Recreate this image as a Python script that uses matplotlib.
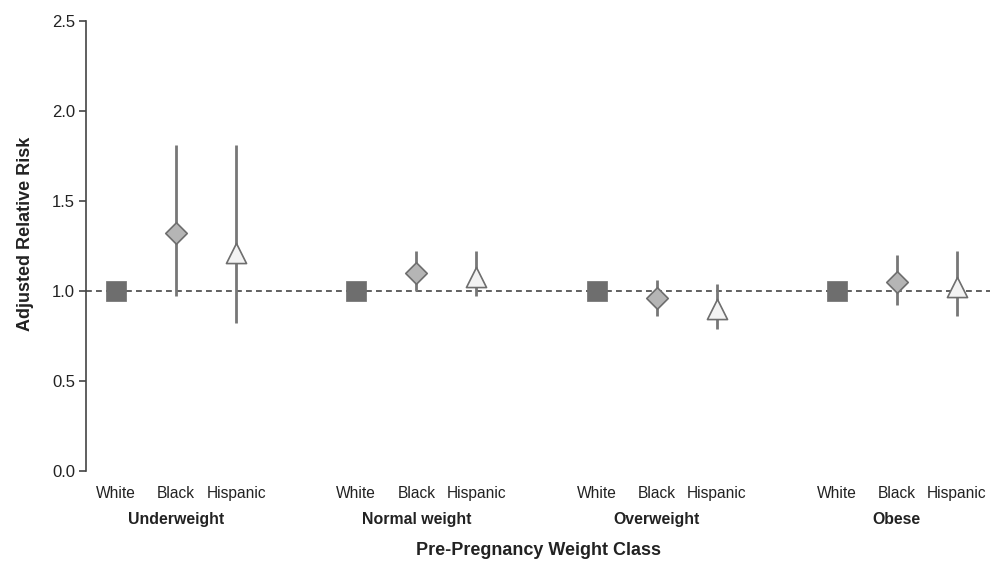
import matplotlib
matplotlib.use("Agg")
import matplotlib.pyplot as plt
from matplotlib.transforms import blended_transform_factory

plt.rcParams['font.family'] = ['Liberation Sans', 'DejaVu Sans']

groups = ["Underweight", "Normal weight", "Overweight", "Obese"]
races = ["White", "Black", "Hispanic"]
# adjusted relative risk, lower CI, upper CI per group (White is reference)
rr_black = [1.32, 1.10, 0.96, 1.05]
lo_black = [0.97, 1.00, 0.86, 0.92]
hi_black = [1.81, 1.22, 1.06, 1.20]
rr_hisp = [1.21, 1.08, 0.90, 1.02]
lo_hisp = [0.82, 0.97, 0.79, 0.86]
hi_hisp = [1.81, 1.22, 1.04, 1.22]
rr_white = [1.0, 1.0, 1.0, 1.0]
yticks = [0.0, 0.5, 1.0, 1.5, 2.0, 2.5]

fig = plt.figure(figsize=(9.99, 5.62), dpi=100)
ax = fig.add_axes([86/999, (562-471)/562, (990-86)/999, 450/562])

line_col = "#777777"
xw = [g*4 + 0 for g in range(4)]
xb = [g*4 + 1 for g in range(4)]
xh = [g*4 + 2 for g in range(4)]

ax.axhline(1.0, color="#444444", lw=1.2, ls=(0, (3.5, 2.5)), zorder=1)

for i in range(4):
    ax.plot([xb[i], xb[i]], [lo_black[i], hi_black[i]], color=line_col, lw=2, zorder=2, solid_capstyle='butt')
    ax.plot([xh[i], xh[i]], [lo_hisp[i], hi_hisp[i]], color=line_col, lw=2, zorder=2, solid_capstyle='butt')

ax.scatter(xw, rr_white, marker='s', s=190, color="#6e6e6e", edgecolor="#6e6e6e", lw=0.5, zorder=3)
ax.scatter(xb, rr_black, marker='D', s=120, color="#b5b5b5", edgecolor="#6e6e6e", lw=1.2, zorder=3)
ax.scatter(xh, rr_hisp, marker='^', s=210, color="#f3f3f3", edgecolor="#6e6e6e", lw=1.2, zorder=3)

ax.set_xlim(-0.5, 14.55)
ax.set_ylim(0, 2.5)
ax.set_yticks(yticks)
ax.set_yticklabels([f"{v:.1f}" for v in yticks], fontsize=12, color="#222222")
xt = sorted(xw + xb + xh)
ax.set_xticks(xt)
ax.set_xticklabels(races * 4, fontsize=11.2, color="#222222")
ax.tick_params(axis='x', length=0, pad=10.5)
ax.tick_params(axis='y', length=5, width=1.2, color="#444444", direction='out', pad=3)

for s in ["top", "right", "bottom"]:
    ax.spines[s].set_visible(False)
ax.spines["left"].set_color("#444444")
ax.spines["left"].set_linewidth(1.2)

trans = blended_transform_factory(ax.transData, ax.transAxes)
for i, g in enumerate(groups):
    ax.text(xb[i], -0.108, g, transform=trans, ha='center', va='center',
            fontsize=11.4, fontweight='bold', color="#222222")

ax.set_xlabel("Pre-Pregnancy Weight Class", fontsize=13, fontweight='bold', color="#222222")
ax.xaxis.set_label_coords(0.5, -0.158)
ax.set_ylabel("Adjusted Relative Risk", fontsize=13, fontweight='bold', color="#222222")
ax.yaxis.set_label_coords(-0.057, 0.527)

fig.savefig("out.png", dpi=100)
